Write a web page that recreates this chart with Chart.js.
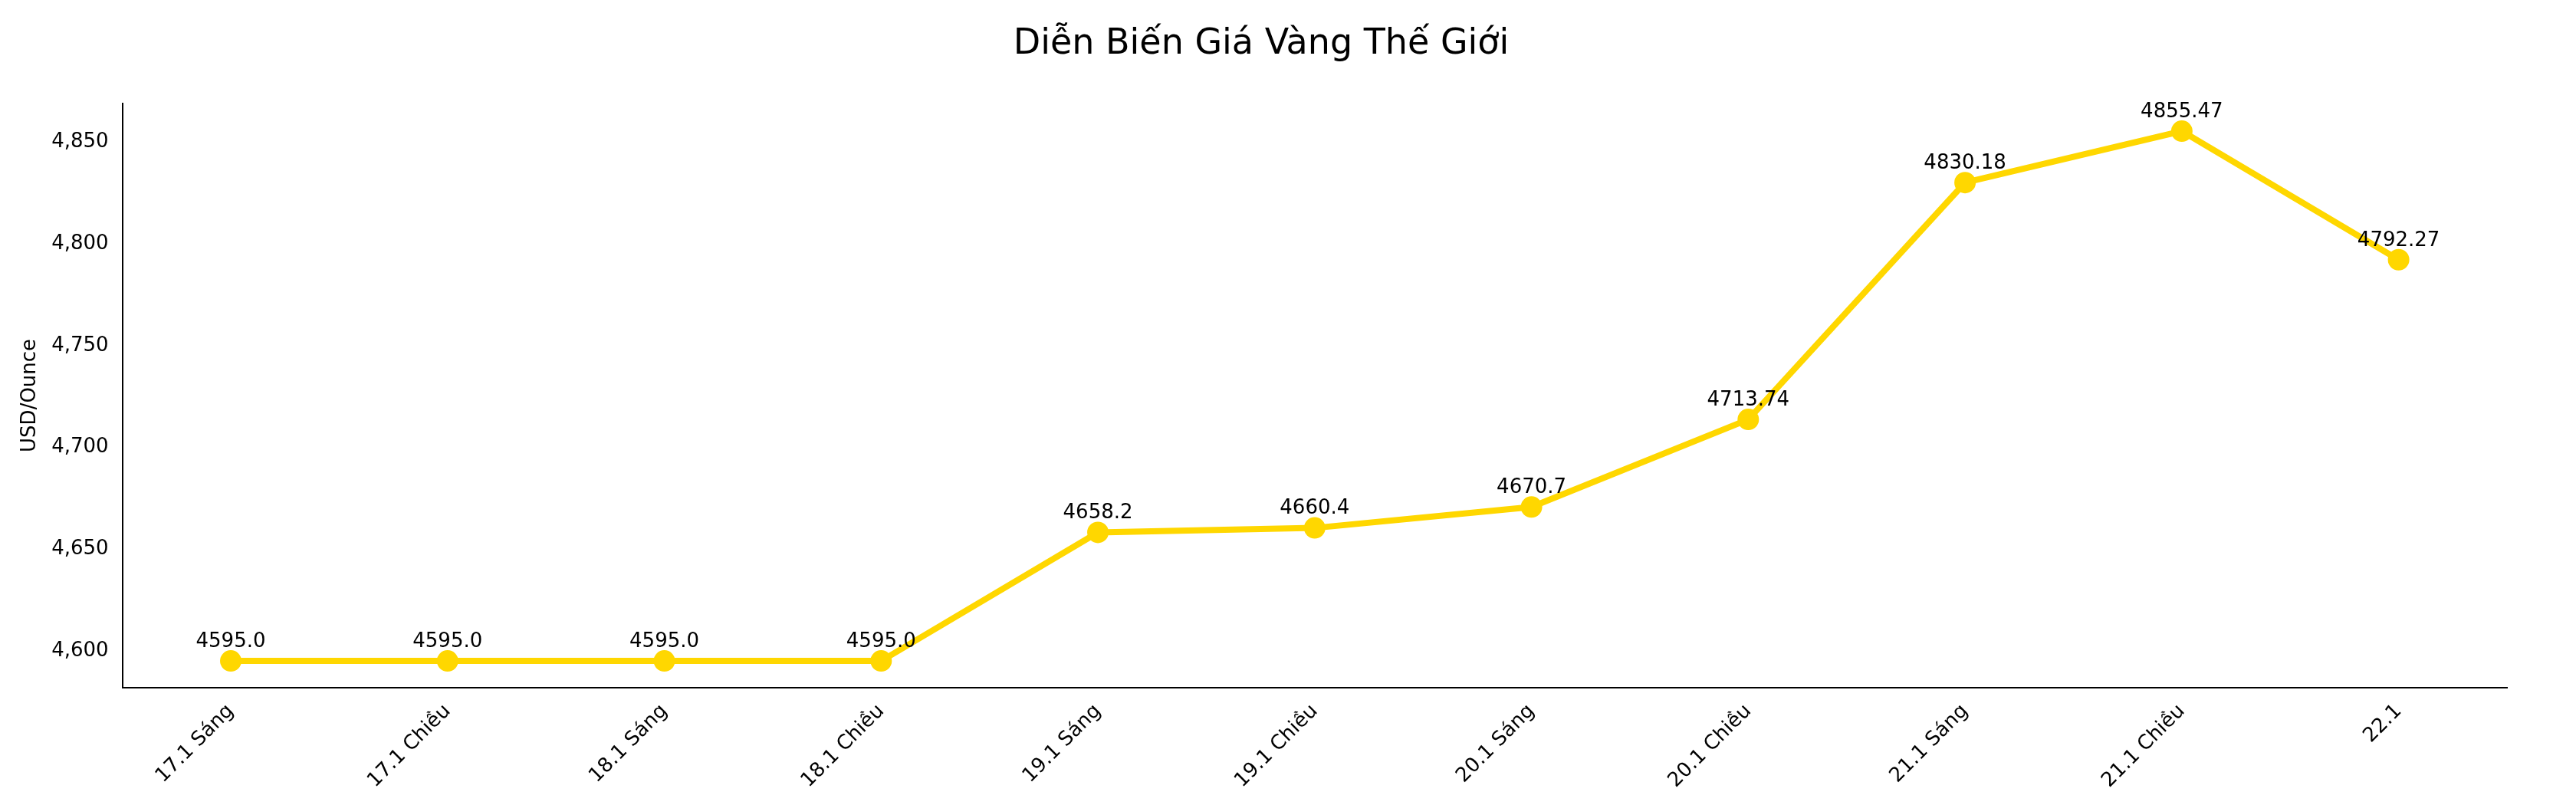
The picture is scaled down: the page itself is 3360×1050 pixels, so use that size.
<!DOCTYPE html>
<html><head><meta charset="utf-8">
<script src="https://cdn.jsdelivr.net/npm/chart.js@4"></script>
<style>html,body{margin:0;background:#fff}</style>
</head><body><canvas id="c" width="3360" height="1050"></canvas>
<script>
const categories=["17.1 Sáng","17.1 Chiều","18.1 Sáng","18.1 Chiều","19.1 Sáng","19.1 Chiều","20.1 Sáng","20.1 Chiều","21.1 Sáng","21.1 Chiều","22.1"];
const prices=[4595.0,4595.0,4595.0,4595.0,4658.2,4660.4,4670.7,4713.74,4830.18,4855.47,4792.27];
const priceLabels=["4595.0","4595.0","4595.0","4595.0","4658.2","4660.4","4670.7","4713.74","4830.18","4855.47","4792.27"];
const yTicks=[4600,4650,4700,4750,4800,4850];
Chart.defaults.font.family="DejaVu Sans";
const lbl={id:'lbl',afterDatasetsDraw(ch){const ctx=ch.ctx;const m=ch.getDatasetMeta(0);ctx.save();ctx.font='26px DejaVu Sans';ctx.fillStyle='#000';ctx.textAlign='center';ctx.textBaseline='bottom';m.data.forEach((p,i)=>ctx.fillText(priceLabels[i],p.x,p.y-12));ctx.restore();}};
new Chart(document.getElementById('c'),{type:'line',
data:{labels:categories,datasets:[{data:prices,borderColor:'#FFD700',backgroundColor:'#FFD700',borderWidth:8,pointRadius:10,pointHoverRadius:10,tension:0}]},
options:{responsive:false,animation:false,devicePixelRatio:1,
layout:{padding:{left:20,right:90,top:20,bottom:10}},
plugins:{legend:{display:false},tooltip:{enabled:false},
title:{display:true,text:'Diễn Biến Giá Vàng Thế Giới',font:{size:46,weight:'normal'},color:'#000',padding:{top:10,bottom:50}}},
scales:{x:{offset:true,grid:{display:false,drawTicks:true,tickLength:10,tickColor:'#000'},border:{color:'#000',width:2},
ticks:{color:'#000',font:{size:26},maxRotation:45,minRotation:45,padding:6}},
y:{min:4582,max:4869,afterBuildTicks:a=>{a.ticks=yTicks.map(v=>({value:v}));},grid:{display:false,tickLength:10,tickColor:'#000'},border:{color:'#000',width:2},
ticks:{color:'#000',font:{size:26},padding:8},
title:{display:true,text:'USD/Ounce',font:{size:26},color:'#000'}}}},
plugins:[lbl]});
</script></body></html>
